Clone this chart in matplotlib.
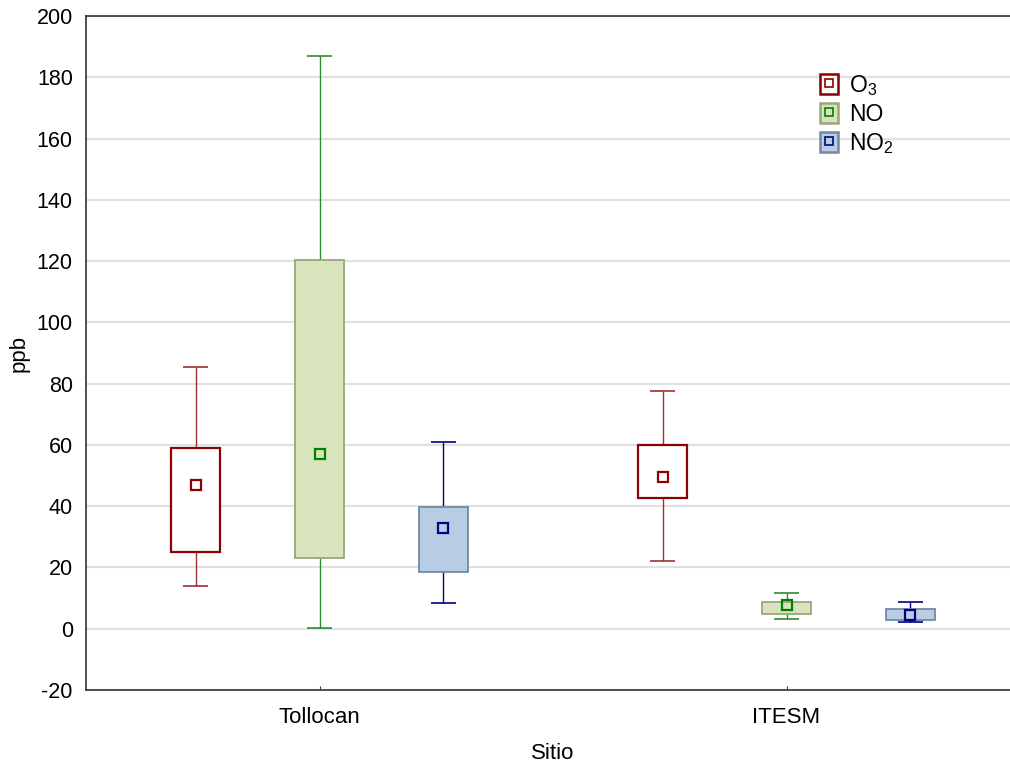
import numpy as np
import matplotlib
matplotlib.use('Agg')
import matplotlib.pyplot as plt
from matplotlib.patches import Patch
from matplotlib.lines import Line2D

plt.rcParams['font.family'] = ['Liberation Sans', 'DejaVu Sans']
plt.rcParams['mathtext.fontset'] = 'custom'
plt.rcParams['mathtext.rm'] = 'Liberation Sans'
plt.rcParams['mathtext.it'] = 'Liberation Sans'
plt.rcParams['axes.unicode_minus'] = False

# datos
sitios = ['Tollocan', 'ITESM']
contaminantes = ['O$_3$', 'NO', 'NO$_2$']

# [Tollocan, ITESM]
o3_min = [14.0, 22.0]
o3_q1 = [25.0, 42.8]
o3_mean = [47.0, 49.5]
o3_q3 = [59.0, 60.0]
o3_max = [85.5, 77.5]

no_min = [0.3, 3.2]
no_q1 = [23.0, 4.9]
no_mean = [57.0, 7.8]
no_q3 = [120.3, 8.7]
no_max = [187.0, 11.7]

no2_min = [8.5, 2.1]
no2_q1 = [18.6, 2.8]
no2_mean = [33.0, 4.6]
no2_q3 = [39.8, 6.6]
no2_max = [61.0, 8.7]

series = [
    (o3_min, o3_q1, o3_mean, o3_q3, o3_max),
    (no_min, no_q1, no_mean, no_q3, no_max),
    (no2_min, no2_q1, no2_mean, no2_q3, no2_max),
]
fills = ['white', '#d8e4bc', '#b8cce4']
edges = ['#8b0000', '#9aa57a', '#7488a6']
lineas = ['#a03030', '#2e8b2e', '#000080']
medias = ['#8b0000', '#008000', '#000080']

fig = plt.figure(figsize=(10.1, 7.67), dpi=100)
ax = fig.add_axes([86/1010, 1 - 690/767, 934/1010, 674/767])

pos = np.arange(1, len(sitios) + 1)
offs = [-0.2655, 0.0, 0.2655]
ancho = 0.105
cap = 0.054

for k, (mn, q1, me, q3, mx) in enumerate(series):
    x = pos + offs[k]
    mn, q1, me, q3, mx = map(np.array, (mn, q1, me, q3, mx))
    ax.vlines(x, q3, mx, color=lineas[k], lw=1, zorder=2)
    ax.vlines(x, mn, q1, color=lineas[k], lw=1, zorder=2)
    ax.hlines(mx, x - cap/2, x + cap/2, color=lineas[k], lw=1.2, zorder=2)
    ax.hlines(mn, x - cap/2, x + cap/2, color=lineas[k], lw=1.2, zorder=2)
    ax.bar(x, q3 - q1, bottom=q1, width=ancho, color=fills[k], edgecolor=edges[k],
           linewidth=1.6 if k == 0 else 1.3, zorder=3)
    ax.plot(x, me, 's', ms=7.5, mfc='none', mec=medias[k], mew=1.6, zorder=4)

ax.set_xlim(0.5, 2.5)
ax.set_ylim(-20, 200)
ax.set_yticks(np.arange(-20, 201, 20))
ax.set_xticks(pos)
ax.set_xticklabels(sitios)
ax.tick_params(axis='both', labelsize=15.5, direction='in', length=3, color='#333333')
ax.tick_params(axis='y', length=0, pad=9.5)
ax.tick_params(axis='x', labelsize=16, pad=12)
ax.grid(axis='y', color='#e0e0e0', lw=1.5, zorder=0)
ax.set_axisbelow(True)
for s in ['left', 'bottom', 'top']:
    ax.spines[s].set_color('#333333')
    ax.spines[s].set_linewidth(1.2)
ax.set_xlabel('Sitio', fontsize=16, labelpad=11)
ax.set_ylabel('ppb', fontsize=16, labelpad=5)

handles = []
for k in range(3):
    handles.append((Patch(facecolor=fills[k], edgecolor=edges[k], linewidth=1.8),
                    Line2D([], [], marker='s', ms=6, mfc='none', mec=medias[k], mew=1.2, ls='none')))
fig.legend(handles, contaminantes, loc='upper left', bbox_to_anchor=(820/1010, 1 - 73/767),
           frameon=False, fontsize=16.5, handlelength=0.8, handleheight=1.0,
           handletextpad=0.45, labelspacing=0.22, borderaxespad=0, borderpad=0)

plt.savefig('out.png', dpi=100)
